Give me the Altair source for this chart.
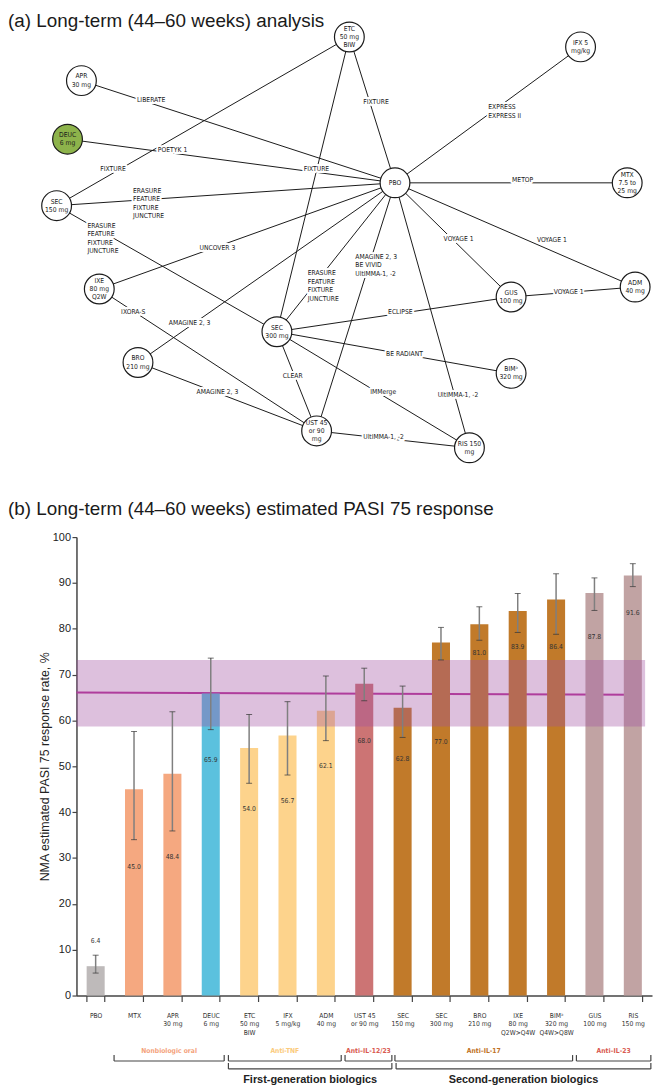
import altair as alt
import pandas as pd

FONT_SMALL = "DejaVu Sans Condensed, DejaVu Sans"
FONT_MAIN = "Liberation Sans, Arial, sans-serif"

title_a = "(a) Long-term (44–60 weeks) analysis"
title_b = "(b) Long-term (44–60 weeks) estimated PASI 75 response"

# ---------------- (a) network ----------------
node_ids = ["PBO", "ETC", "IFX", "APR", "DEUC", "SEC150", "MTX", "IXE",
            "SEC300", "BRO", "GUS", "ADM", "BIM", "UST", "RIS"]
node_labels = ["PBO", "ETC\n50 mg\nBIW", "IFX 5\nmg/kg", "APR\n30 mg", "DEUC\n6 mg",
               "SEC\n150 mg", "MTX\n7.5 to\n25 mg", "IXE\n80 mg\nQ2W", "SEC\n300 mg",
               "BRO\n210 mg", "GUS\n100 mg", "ADM\n40 mg", "BIMᵃ\n320 mg",
               "UST 45\nor 90\nmg", "RIS 150\nmg"]
node_x = [398, 352, 585, 82, 68, 57, 632, 100, 279, 139, 515, 640, 515, 319, 473]
node_y = [180, 33, 43, 77, 136, 203, 180, 287, 330, 361, 295, 285, 372, 430, 447]

edge_from = ["PBO", "PBO", "PBO", "PBO", "PBO", "GUS", "PBO", "PBO", "SEC150", "ETC",
             "SEC150", "SEC150", "PBO", "IXE", "PBO", "BRO", "SEC300", "PBO", "PBO",
             "SEC300", "SEC300", "SEC300", "PBO", "UST"]
edge_to = ["ETC", "IFX", "MTX", "ADM", "GUS", "ADM", "APR", "DEUC", "ETC", "SEC300",
           "PBO", "SEC300", "IXE", "UST", "BRO", "UST", "UST", "SEC300", "UST",
           "GUS", "BIM", "RIS", "RIS", "RIS"]
edge_label = ["FIXTURE", "EXPRESS\nEXPRESS II", "METOP", "VOYAGE 1", "VOYAGE 1", "VOYAGE 1",
              "LIBERATE", "POETYK 1", "FIXTURE", "FIXTURE",
              "ERASURE\nFEATURE\nFIXTURE\nJUNCTURE", "ERASURE\nFEATURE\nFIXTURE\nJUNCTURE",
              "UNCOVER 3", "IXORA-S", "AMAGINE 2, 3", "AMAGINE 2, 3", "CLEAR",
              "ERASURE\nFEATURE\nFIXTURE\nJUNCTURE", "AMAGINE 2, 3\nBE VIVID\nUltIMMA-1, -2",
              "ECLIPSE", "BE RADIANT", "IMMerge", "UltIMMA-1, -2", "UltIMMA-1, -2"]
edge_label_x = [366, 492, 516, 541, 447, 558, 138, 159, 101, 306, 134, 88, 201, 122, 170,
                198, 285, 310, 358, 391, 389, 373, 441, 366]
edge_label_y = [99, 108, 177, 238, 237, 290, 97, 147, 166, 166, 201, 236, 246, 310, 321,
                391, 375, 284, 263, 310, 353, 391, 394, 436]

# ---------------- (b) bar chart ----------------
categories = ["PBO", "MTX", "APR|30 mg", "DEUC|6 mg", "ETC|50 mg|BIW", "IFX|5 mg/kg",
              "ADM|40 mg", "UST 45|or 90 mg", "SEC|150 mg", "SEC|300 mg", "BRO|210 mg",
              "IXE|80 mg|Q2W>Q4W", "BIMᵃ|320 mg|Q4W>Q8W", "GUS|100 mg", "RIS|150 mg"]
pasi75 = [6.4, 45.0, 48.4, 65.9, 54.0, 56.7, 62.1, 68.0, 62.8, 77.0, 81.0, 83.9, 86.4, 87.8, 91.6]
ci_low = [4.9, 34.0, 35.9, 58.0, 46.3, 48.1, 55.6, 64.3, 56.3, 73.2, 77.5, 79.2, 78.8, 84.0, 89.2]
ci_high = [8.8, 57.6, 61.9, 73.6, 61.3, 64.1, 69.7, 71.4, 67.5, 80.3, 84.8, 87.7, 92.0, 91.1, 94.2]
value_label_y = [11.9, 28.1, 30.3, 51.3, 40.7, 42.4, 50.0, 55.6, 51.5, 55.4, 74.7, 76.0,
                 76.0, 78.1, 83.5]
drug_class = ["Placebo", "Nonbiologic oral", "Nonbiologic oral", "DEUC", "Anti-TNF",
              "Anti-TNF", "Anti-TNF", "Anti-IL-12/23", "Anti-IL-17", "Anti-IL-17",
              "Anti-IL-17", "Anti-IL-17", "Anti-IL-17", "Anti-IL-23", "Anti-IL-23"]
class_names = ["Placebo", "Nonbiologic oral", "DEUC", "Anti-TNF", "Anti-IL-12/23",
               "Anti-IL-17", "Anti-IL-23"]
class_colors = ["#BEBABA", "#F5A880", "#5BC1DE", "#FDD38C", "#CC7474", "#C17A2A", "#C1A3A3"]

# DEUC reference band and line (index units on x)
deuc_band = {"x_start": 0.0, "x_end": 14.82, "lo": 58.7, "hi": 73.2}
deuc_line = {"x_start": 0.0, "x_end": 14.6, "y_start": 66.1, "y_end": 65.6}

group1_names = ["Nonbiologic oral", "Anti-TNF", "Anti–IL-12/23", "Anti–IL-17", "Anti–IL-23"]
group1_start = [0.98, 3.96, 7.0, 8.3, 13.03]
group1_end = [3.85, 6.9, 8.22, 12.93, 14.97]
group1_colors = ["#F4A27C", "#FBCB7C", "#D9594F", "#C07224", "#D9594F"]
group2_names = ["First-generation biologics", "Second-generation biologics"]
group2_start = [3.96, 8.33]
group2_end = [8.22, 14.97]

EDGE_LH = 8.5
NODE_LH = 8.3

# ================= top: network =================
nodes = pd.DataFrame({"id": node_ids, "label": node_labels, "x": node_x, "y": node_y})
# first-line position so that multi-line labels are centred on the node
nodes["ty"] = nodes["y"] - (nodes["label"].str.count("\n") * NODE_LH / 2)
pos = nodes.set_index("id")
edges = pd.DataFrame({"src": edge_from, "dst": edge_to, "label": edge_label,
                      "lx": edge_label_x, "ly": edge_label_y})
edges["ty"] = edges["ly"] - (edges["label"].str.count("\n") * EDGE_LH / 2)
edges["x1"] = edges["src"].map(pos["x"])
edges["y1"] = edges["src"].map(pos["y"])
edges["x2"] = edges["dst"].map(pos["x"])
edges["y2"] = edges["dst"].map(pos["y"])

xs = alt.Scale(domain=[77, 657], nice=False, zero=False)
ys = alt.Scale(domain=[8, 527], nice=False, zero=False, reverse=True)

edge_lines = alt.Chart(edges).mark_rule(color="#1a1a1a", strokeWidth=1).encode(
    x=alt.X("x1:Q", scale=xs, axis=None), y=alt.Y("y1:Q", scale=ys, axis=None),
    x2="x2:Q", y2="y2:Q")

label_kw = dict(align="left", baseline="middle", font=FONT_SMALL, fontSize=6.8,
                lineBreak="\n", lineHeight=EDGE_LH)
edge_halo = alt.Chart(edges).mark_text(color="white", stroke="white", strokeWidth=4,
                                       strokeJoin="round", **label_kw).encode(
    x=alt.X("lx:Q", scale=xs, axis=None), y=alt.Y("ty:Q", scale=ys, axis=None),
    text="label:N")
edge_text = alt.Chart(edges).mark_text(color="#1a1a1a", **label_kw).encode(
    x=alt.X("lx:Q", scale=xs, axis=None), y=alt.Y("ty:Q", scale=ys, axis=None),
    text="label:N")

node_circles = alt.Chart(nodes).mark_point(
    shape="circle", filled=True, size=900, stroke="#1a1a1a", strokeWidth=1.2, opacity=1
).encode(
    x=alt.X("x:Q", scale=xs, axis=None), y=alt.Y("y:Q", scale=ys, axis=None),
    fill=alt.condition("datum.id === 'DEUC'", alt.value("#8DB34B"), alt.value("white")))
node_text = alt.Chart(nodes).mark_text(
    align="center", baseline="middle", font=FONT_SMALL, fontSize=6.8, lineBreak="\n",
    lineHeight=NODE_LH, color="#1a1a1a"
).encode(x=alt.X("x:Q", scale=xs, axis=None), y=alt.Y("ty:Q", scale=ys, axis=None),
         text="label:N")

titles = pd.DataFrame({"t": [title_a, title_b]})
ta = alt.Chart(titles.iloc[[0]]).mark_text(
    align="left", baseline="alphabetic", font=FONT_MAIN, fontSize=19, color="#1a1a1a"
).encode(x=alt.value(-69), y=alt.value(15), text="t:N")
tb = alt.Chart(titles.iloc[[1]]).mark_text(
    align="left", baseline="alphabetic", font=FONT_MAIN, fontSize=19, color="#1a1a1a"
).encode(x=alt.value(-69), y=alt.value(507), text="t:N")

top = alt.layer(edge_lines, edge_halo, edge_text, node_circles, node_text, ta, tb).properties(
    width=580, height=519)

# ================= bottom: bars =================
bars_df = pd.DataFrame({"cat": categories, "val": pasi75, "lo": ci_low, "hi": ci_high,
                        "ly": value_label_y, "cls": drug_class,
                        "txt": [f"{v:.1f}" for v in pasi75]})

band_scale = alt.Scale(domain=categories, paddingInner=0.53, paddingOuter=0.265)
idx_scale = alt.Scale(domain=[0, 15], nice=False, zero=False)
y_scale = alt.Scale(domain=[0, 100], nice=False)
y_axis = alt.Axis(values=list(range(0, 101, 10)), tickSize=4.5, labelPadding=1.5,
                  labelFont=FONT_MAIN, labelFontSize=11, labelColor="#222",
                  domainColor="#444", domainWidth=1.5, tickColor="#444", tickWidth=1.2,
                  grid=False, titleFont=FONT_MAIN, titleFontSize=12.5,
                  titleFontWeight="normal", titleColor="#222", titleX=-32, titleY=231,
                  titleAlign="center", titleBaseline="middle")
Y_TITLE = "NMA estimated PASI 75 response rate, %"


def Yq(field):
    return alt.Y(f"{field}:Q", scale=y_scale, axis=y_axis, title=Y_TITLE)


x_axis = alt.Axis(labelExpr="split(datum.label, '|')", labelAngle=0, labelFont=FONT_SMALL,
                  labelFontSize=6.8, labelColor="#333", labelLineHeight=8.7,
                  labelBaseline="top", labelPadding=11, tickSize=6, tickBand="extent",
                  tickColor="#444", tickWidth=1.2, domainColor="#444", domainWidth=1.5,
                  labelOverlap=False, title=None)
Xb = alt.X("cat:N", scale=band_scale, axis=None)

line_df = pd.DataFrame([deuc_line])
band_df = pd.DataFrame([deuc_band])

ref_line = alt.Chart(line_df).mark_rule(color="#B8339A", strokeWidth=2).encode(
    x=alt.X("x_start:Q", scale=idx_scale, axis=None), x2="x_end:Q",
    y=Yq("y_start"), y2="y_end:Q")

bars = alt.Chart(bars_df).mark_bar().encode(
    x=alt.X("cat:N", scale=band_scale, axis=x_axis),
    y=Yq("val"),
    color=alt.Color("cls:N", scale=alt.Scale(domain=class_names, range=class_colors),
                    legend=None))

ref_band = alt.Chart(band_df).mark_rect(color="#A050A0", opacity=0.36).encode(
    x=alt.X("x_start:Q", scale=idx_scale, axis=None), x2="x_end:Q",
    y=Yq("lo"), y2="hi:Q")

err = alt.Chart(bars_df).mark_rule(color="#7f7f7f", strokeWidth=1.5).encode(
    x=Xb, y=Yq("lo"), y2="hi:Q")
cap_lo = alt.Chart(bars_df).mark_tick(color="#333", thickness=1, size=6).encode(
    x=Xb, y=Yq("lo"))
cap_hi = alt.Chart(bars_df).mark_tick(color="#333", thickness=1, size=6).encode(
    x=Xb, y=Yq("hi"))
val_text = alt.Chart(bars_df).mark_text(
    font=FONT_SMALL, fontSize=6.8, color="#333", baseline="middle").encode(
    x=Xb, y=Yq("ly"), text="txt:N")

g1 = pd.DataFrame({"name": group1_names, "start": group1_start, "end": group1_end})
g1["mid"] = (g1["start"] + g1["end"]) / 2
g2 = pd.DataFrame({"name": group2_names, "start": group2_start, "end": group2_end})
g2["mid"] = (g2["start"] + g2["end"]) / 2

BR = dict(color="#444", strokeWidth=1.2)


def bracket_layers(df, ybase, ytop):
    h = alt.Chart(df).mark_rule(**BR).encode(
        x=alt.X("start:Q", scale=idx_scale, axis=None), x2="end:Q", y=alt.value(ybase))
    l = alt.Chart(df).mark_rule(**BR).encode(
        x=alt.X("start:Q", scale=idx_scale, axis=None), y=alt.value(ytop),
        y2=alt.value(ybase))
    r = alt.Chart(df).mark_rule(**BR).encode(
        x=alt.X("end:Q", scale=idx_scale, axis=None), y=alt.value(ytop),
        y2=alt.value(ybase))
    return [h, l, r]


g1_text = alt.Chart(g1).mark_text(font=FONT_SMALL, fontSize=6.8, fontWeight="bold",
                                  baseline="middle").encode(
    x=alt.X("mid:Q", scale=idx_scale, axis=None), y=alt.value(518), text="name:N",
    color=alt.Color("name:N", scale=alt.Scale(domain=group1_names, range=group1_colors),
                    legend=None))
g2_text = alt.Chart(g2).mark_text(font=FONT_MAIN, fontSize=11, fontWeight="bold",
                                  baseline="middle", color="#222").encode(
    x=alt.X("mid:Q", scale=idx_scale, axis=None), y=alt.value(547), text="name:N")

bottom = alt.layer(
    ref_line, bars, ref_band, err, cap_lo, cap_hi, val_text,
    *bracket_layers(g1, 528, 522), *bracket_layers(g2, 536, 530), g1_text, g2_text
).resolve_scale(x="independent", color="independent").properties(width=580, height=462)

chart = alt.vconcat(top, bottom, spacing=10, bounds="flush").properties(
    padding=0).configure_view(stroke=None)

chart.save("out.html", embed_options={"renderer": "svg", "actions": False})
